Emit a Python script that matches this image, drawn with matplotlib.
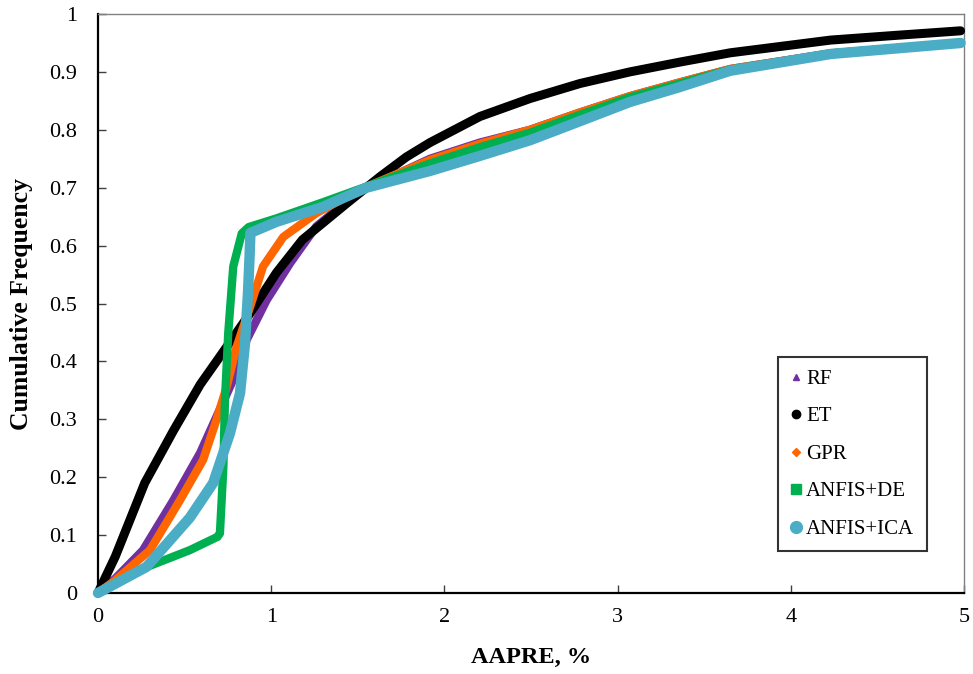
import matplotlib
matplotlib.use("Agg")
import matplotlib.pyplot as plt
from matplotlib.lines import Line2D

# ---- data ----
rf_x = [0, 0.1, 0.26, 0.435, 0.59, 0.685, 0.78, 0.858, 0.974, 1.11, 1.26, 1.5, 1.917, 2.205, 2.494, 2.783, 3.07, 3.36, 3.65, 4.23, 4.98]
rf_y = [0, 0.025, 0.074, 0.16, 0.242, 0.305, 0.368, 0.437, 0.506, 0.57, 0.633, 0.692, 0.75, 0.778, 0.80, 0.83, 0.858, 0.882, 0.905, 0.932, 0.95]

et_x = [0, 0.1, 0.27, 0.435, 0.59, 0.743, 0.878, 1.03, 1.18, 1.436, 1.628, 1.78, 1.917, 2.205, 2.494, 2.783, 3.07, 3.36, 3.65, 4.23, 4.6, 4.98]
et_y = [0, 0.063, 0.19, 0.28, 0.36, 0.425, 0.483, 0.553, 0.61, 0.673, 0.719, 0.753, 0.778, 0.823, 0.854, 0.880, 0.90, 0.917, 0.933, 0.955, 0.963, 0.971]

gpr_x = [0, 0.1, 0.3, 0.473, 0.607, 0.685, 0.743, 0.8, 0.878, 0.953, 1.07, 1.26, 1.5, 1.917, 2.205, 2.494, 2.783, 3.07, 3.36, 3.65, 4.23, 4.98]
gpr_y = [0, 0.022, 0.074, 0.16, 0.23, 0.3, 0.356, 0.425, 0.494, 0.564, 0.615, 0.656, 0.695, 0.748, 0.776, 0.80, 0.83, 0.858, 0.882, 0.905, 0.932, 0.95]

de_x = [0, 0.24, 0.53, 0.69, 0.704, 0.724, 0.733, 0.752, 0.781, 0.83, 0.87, 1.03, 1.3, 1.55, 1.917, 2.205, 2.494, 2.783, 3.07, 3.36, 3.65, 4.23, 4.98]
de_y = [0, 0.04, 0.074, 0.097, 0.103, 0.218, 0.333, 0.449, 0.564, 0.621, 0.632, 0.647, 0.675, 0.702, 0.742, 0.77, 0.795, 0.826, 0.856, 0.88, 0.904, 0.932, 0.95]

ica_x = [0, 0.28, 0.53, 0.665, 0.762, 0.82, 0.849, 0.866, 0.875, 0.88, 1.03, 1.3, 1.55, 1.917, 2.205, 2.494, 2.783, 3.07, 3.36, 3.65, 4.23, 4.98]
ica_y = [0, 0.045, 0.13, 0.19, 0.276, 0.345, 0.432, 0.518, 0.58, 0.622, 0.641, 0.667, 0.70, 0.729, 0.755, 0.782, 0.815, 0.848, 0.874, 0.902, 0.931, 0.95]

labels = ["RF", "ET", "GPR", "ANFIS+DE", "ANFIS+ICA"]
colors = ["#7030A0", "#000000", "#FF6600", "#00B050", "#4BACC6"]
markers = ["^", "o", "D", "s", "o"]
msizes = [5, 6, 4.5, 7, 8.5]
widths = [6.0, 6.5, 6.0, 6.0, 7.5]

x_ticks = [0, 1, 2, 3, 4, 5]
y_ticks = [0, 0.1, 0.2, 0.3, 0.4, 0.5, 0.6, 0.7, 0.8, 0.9, 1]
y_tick_labels = ["0", "0.1", "0.2", "0.3", "0.4", "0.5", "0.6", "0.7", "0.8", "0.9", "1"]

plt.rcParams["font.family"] = ["Liberation Serif", "DejaVu Serif"]

fig = plt.figure(figsize=(9.73, 6.74), dpi=100)
ax = fig.add_axes([0.1007, 0.1202, 0.8901, 0.8590])

series = [(rf_x, rf_y), (et_x, et_y), (gpr_x, gpr_y), (de_x, de_y), (ica_x, ica_y)]
for i, (xs, ys) in enumerate(series):
    ax.plot(xs, ys, color=colors[i], linewidth=widths[i], solid_capstyle="round",
            solid_joinstyle="round", clip_on=False, zorder=2 + i)

ax.set_xlim(0, 5)
ax.set_ylim(0, 1)
ax.set_xticks(x_ticks)
ax.set_xticklabels([str(t) for t in x_ticks])
ax.set_yticks(y_ticks)
ax.set_yticklabels(y_tick_labels)
ax.tick_params(axis="both", direction="in", length=6, width=1, labelsize=16, color="#404040")
ax.tick_params(axis="x", pad=11)
ax.tick_params(axis="y", pad=15)

for side in ["left", "bottom"]:
    ax.spines[side].set_linewidth(1.6)
    ax.spines[side].set_color("black")
for side in ["top", "right"]:
    ax.spines[side].set_linewidth(1.0)
    ax.spines[side].set_color("#808080")

ax.set_xlabel("AAPRE, %", fontsize=17.5, fontweight="bold", labelpad=14)
ax.set_ylabel("Cumulative Frequency", fontsize=18.5, fontweight="bold", labelpad=12)

handles = [Line2D([], [], linestyle="none", marker=markers[i], color=colors[i],
                  markersize=msizes[i]) for i in range(5)]
leg = ax.legend(handles, labels, loc="upper right", bbox_to_anchor=(0.957, 0.408),
                frameon=True, fancybox=False, edgecolor="black", fontsize=15,
                handlelength=0.5, handletextpad=0.25, labelspacing=0.86,
                borderpad=0.6, borderaxespad=0.0)
leg.get_frame().set_linewidth(1.5)
leg.set_zorder(20)

fig.savefig("out.png", dpi=100)
